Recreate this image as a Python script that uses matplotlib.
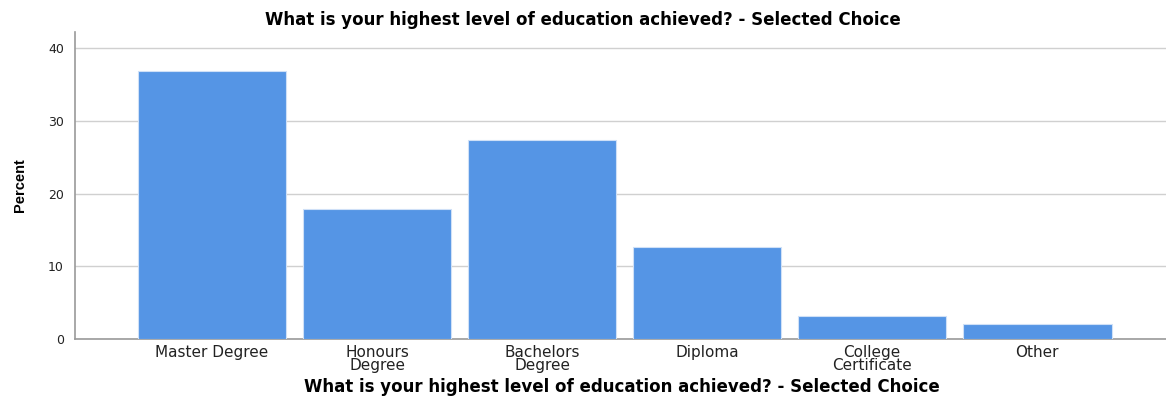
import matplotlib
matplotlib.use("Agg")
import matplotlib.pyplot as plt

categories = ["Master Degree", "Honours\nDegree", "Bachelors\nDegree", "Diploma",
              "College\nCertificate", "Other"]
percent = [36.9, 17.9, 27.4, 12.6, 3.2, 2.1]
yticks = [0, 10, 20, 30, 40]
title = "What is your highest level of education achieved? - Selected Choice"

plt.rcParams['font.family'] = ['DejaVu Sans']

fig = plt.figure(figsize=(11.66, 3.98), dpi=100)
ax = fig.add_axes([75/1166, 59/398, 1 - 75/1166, 307/398])

x = list(range(len(categories)))
ax.bar(x, percent, width=0.9, color="#5595E5", edgecolor="#CFE0F7", linewidth=0.8, zorder=3)
ax.set_xlim(-0.83, 5.78)
ax.set_ylim(0, 42.2)
ax.set_yticks(yticks)
ax.set_yticklabels([str(v) for v in yticks], fontsize=9, color="#222222")
ax.set_xticks(x)
ax.set_xticklabels(categories, fontsize=11, linespacing=0.85, color="#222222")
ax.tick_params(axis='both', length=0, pad=8)
ax.tick_params(axis='x', pad=4)
ax.yaxis.grid(True, color="#D0D0D0", linewidth=1.0, zorder=0)
for s in ["top", "right"]:
    ax.spines[s].set_visible(False)
ax.spines["left"].set_color("#9A9A9A")
ax.spines["bottom"].set_color("#9A9A9A")
ax.spines["left"].set_linewidth(1.2)
ax.spines["bottom"].set_linewidth(1.2)

ax.set_ylabel("Percent", fontsize=10.5, fontweight="bold", family=['Liberation Sans'], labelpad=15)
fig.text(622/1166, 1 - 387/398, title, ha="center", va="center", fontsize=12, fontweight="bold")
fig.text(583/1166, 1 - 20/398, title, ha="center", va="center", fontsize=12, fontweight="bold")

fig.savefig("out.png", dpi=100)
